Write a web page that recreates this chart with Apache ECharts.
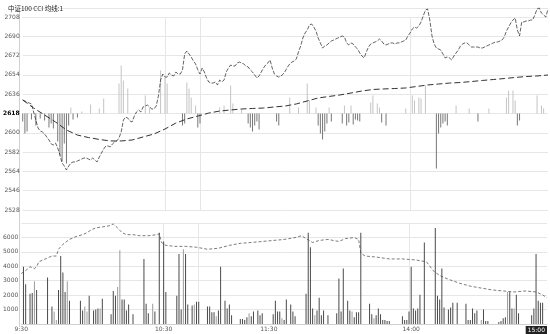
<!DOCTYPE html>
<html><head><meta charset="utf-8">
<script src="https://cdn.jsdelivr.net/npm/echarts@6/dist/echarts.min.js"></script>
<style>html,body{margin:0;padding:0;background:#fff}#c{width:550px;height:334px}</style>
</head><body><div id="c"></div>
<script>
const titleText = '中证100 CCI 均线:1';
const priceTicks = { min: 2528, max: 2708, step: 18, center: 2618 };
const volTicks = { min: 0, max: 7000, step: 1000 };
const tickIdx = [0, 65, 113, 178, 240];
const tickLabels = ['9:30', '10:30', '11:30', '14:00', '15:00'];
const vlineIdx = [65, 81, 177];

const price = [
2630.6,2629.7,2628.7,2627.8,2626.9,2619.4,2611.9,2604.5,2601.7,2600.8,
2598.9,2596.1,2593.3,2589.6,2588.6,2590.5,2585.8,2579.3,2571.8,2569.0,
2565.3,2569.0,2571.8,2572.8,2572.8,2573.7,2574.6,2575.6,2576.5,2576.5,
2575.6,2574.6,2576.5,2574.6,2572.8,2577.4,2581.2,2584.9,2587.7,2587.7,
2586.8,2589.6,2591.4,2592.4,2595.2,2600.8,2611.9,2614.7,2613.8,2611.0,
2610.1,2615.7,2619.4,2621.3,2619.4,2624.1,2625.0,2625.9,2624.1,2622.2,
2622.2,2625.0,2634.3,2649.2,2654.8,2652.0,2652.0,2655.8,2653.9,2653.0,
2656.7,2654.8,2654.8,2658.6,2673.5,2676.3,2673.5,2670.7,2667.0,2664.2,
2658.6,2654.8,2660.4,2656.7,2651.1,2647.4,2646.4,2646.4,2647.4,2644.6,
2649.2,2647.4,2649.2,2656.7,2660.4,2663.2,2662.3,2662.3,2665.1,2666.0,
2665.1,2664.2,2662.3,2661.4,2658.6,2656.7,2653.9,2651.1,2653.0,2656.7,
2660.4,2663.2,2665.1,2667.9,2660.4,2654.8,2653.0,2652.0,2653.0,2654.8,
2657.6,2661.4,2664.2,2666.0,2667.0,2668.8,2675.4,2680.9,2688.4,2693.1,
2695.9,2700.5,2701.5,2698.7,2694.9,2688.4,2683.8,2679.1,2680.9,2681.9,
2683.8,2685.6,2686.5,2687.5,2688.4,2689.3,2690.3,2689.3,2683.8,2681.9,
2683.8,2682.8,2680.0,2678.2,2674.4,2671.6,2669.8,2675.4,2680.0,2682.8,
2683.8,2684.7,2685.6,2687.5,2685.6,2682.8,2681.9,2682.8,2683.8,2683.8,
2682.8,2683.8,2683.8,2684.7,2685.6,2686.5,2690.3,2693.1,2696.8,2698.7,
2697.7,2699.6,2703.4,2709.0,2714.5,2715.5,2705.2,2690.3,2682.8,2679.1,
2678.2,2677.2,2673.5,2669.8,2670.7,2669.8,2667.9,2671.6,2674.4,2677.2,
2680.9,2682.8,2683.8,2683.8,2681.9,2680.0,2680.0,2680.0,2680.0,2679.1,
2679.1,2680.0,2680.9,2681.9,2682.8,2683.8,2684.7,2684.7,2685.6,2686.5,
2689.3,2694.9,2698.7,2702.4,2705.2,2707.1,2695.9,2690.3,2703.4,2703.4,
2704.3,2704.3,2705.2,2705.2,2709.9,2715.5,2716.4,2711.7,2709.9,2708.0,2715.5
];

const avgPoints = [
[0,2630.6],[5,2623.1],[10,2616.6],[15,2610.1],[20,2602.6],[25,2597.9],[30,2595.6],[35,2593.8],
[40,2592.4],[45,2592.4],[50,2593.3],[55,2596.1],[60,2598.9],[65,2603.5],[70,2609.1],[75,2612.9],
[80,2615.6],[85,2618.4],[90,2620.3],[95,2621.3],[100,2622.2],[105,2622.7],[110,2623.1],[115,2624.1],
[120,2625.0],[125,2626.9],[130,2629.7],[135,2632.5],[140,2633.9],[145,2635.3],[150,2637.1],[155,2639.0],
[160,2640.4],[165,2640.9],[170,2641.3],[175,2641.8],[180,2643.2],[185,2644.6],[190,2645.5],[195,2646.4],
[200,2646.9],[205,2647.8],[210,2648.8],[215,2649.7],[220,2650.6],[225,2651.6],[230,2652.5],[235,2653.0],[240,2653.9]
];

const barUp = [
[22,6],[27,2],[31,9],[35,5],[37,15],[44,30],[45,48],[46,33],[48,25],[56,18],[58,6],[63,43],[65,36],[66,30],
[75,31],[76,25],[77,16],[79,8],[90,6],[92,8],[95,28],[96,10],[100,4],[122,16],[126,6],[130,30],[131,13],
[134,6],[140,6],[147,8],[150,8],[159,11],[160,18],[162,10],[163,6],[175,5],[178,18],[179,13],[181,16],
[182,15],[184,28],[198,8],[204,5],[213,5],[221,16],[222,23],[224,23],[225,13],[235,18],[237,8],[238,5]
];
const barDown = [
[0,-8],[1,-20],[2,-18],[4,-6],[6,-12],[8,-5],[10,-7],[12,-14],[13,-10],[14,-15],[16,-28],[17,-42],[18,-48],
[19,-30],[20,-50],[21,-12],[23,-6],[25,-4],[73,-12],[74,-10],[80,-14],[81,-10],[103,-10],[104,-14],[105,-18],
[106,-12],[107,-8],[108,-16],[116,-8],[117,-12],[135,-12],[136,-20],[137,-26],[138,-18],[139,-10],[141,-8],
[146,-10],[148,-12],[149,-9],[151,-11],[152,-6],[153,-7],[154,-8],[164,-9],[166,-12],[189,-55],[190,-20],
[191,-14],[192,-10],[193,-8],[194,-12],[208,-8],[226,-12],[227,-7]
];

const volDark = [
[1,3970],[2,2760],[4,2090],[5,2150],[7,2360],[12,3230],[14,1210],[17,2360],[18,4710],[19,3570],[20,2220],
[22,1620],[27,1620],[28,940],[31,1950],[33,940],[34,1010],[35,1080],[37,1750],[41,670],[42,2290],[43,1950],
[46,1690],[47,1690],[48,940],[49,1350],[51,670],[56,4510],[57,1410],[58,740],[61,870],[63,6330],[65,5720],
[66,2220],[71,1950],[72,4850],[73,1010],[75,4850],[76,1350],[78,1280],[80,1550],[81,1550],[85,1210],[86,1210],
[87,810],[88,810],[90,940],[91,3970],[93,1620],[94,1080],[95,1350],[96,610],[100,340],[101,340],[102,270],
[103,470],[105,540],[106,870],[108,940],[109,610],[110,740],[115,670],[116,1620],[117,870],[118,870],[120,270],
[121,1690],[123,1350],[124,870],[125,540],[130,2090],[131,6330],[132,5320],[133,1080],[135,940],[136,1820],
[137,610],[138,940],[140,610],[144,740],[145,3160],[146,870],[147,3840],[149,1620],[150,940],[152,470],
[153,810],[154,810],[155,6330],[159,1410],[160,670],[162,610],[163,1080],[164,670],[165,270],[166,270],
[167,200],[168,200],[174,540],[175,270],[176,270],[177,870],[178,3970],[179,1080],[180,940],[181,1080],
[182,2020],[184,5650],[189,6660],[190,1950],[191,1690],[192,3840],[193,1140],[195,1010],[196,1140],[197,1480],
[199,1480],[203,1410],[204,270],[205,270],[206,1080],[207,740],[208,940],[211,1010],[212,200],[213,200],
[218,130],[219,200],[220,400],[221,470],[223,2220],[224,1080],[226,2020],[227,740],[233,610],[234,1080],
[235,4850],[236,1620],[237,1480],[238,1480]
];
const volLight = [
[6,2960],[15,870],[16,270],[21,2960],[29,1210],[30,870],[36,1080],[44,2560],[45,5110],[60,1410],[74,5180],
[79,1350],[89,540],[104,740],[119,400],[134,610],[151,870],[161,400],[210,270],[222,2220],[225,1080]
];
const volLine = [
[0,3500],[2,3700],[4,3970],[6,3840],[7,3970],[8,4310],[10,4440],[12,4580],[14,4710],[16,4710],[17,5180],
[19,5520],[22,5860],[25,6060],[28,6190],[30,6330],[32,6530],[34,6660],[37,6730],[40,6800],[42,6930],[44,6660],
[46,6330],[48,6190],[51,6190],[54,6120],[58,6120],[62,6190],[63,6260],[64,5650],[66,5450],[70,5380],[75,5380],
[80,5320],[85,5180],[90,5250],[95,5450],[100,5590],[105,5650],[110,5720],[115,5790],[120,5860],[125,5990],
[128,6120],[130,5920],[133,5650],[136,5790],[140,5860],[145,5720],[148,5920],[152,5990],[154,5860],[155,4910],
[157,4710],[162,4640],[168,4510],[174,4510],[180,4440],[185,4310],[188,3700],[191,3360],[195,3100],[200,2830],
[205,2620],[210,2490],[215,2360],[220,2290],[225,2220],[230,2290],[235,2220],[238,2020],[240,1820]
];

const categories = price.map((_, i) => String(i));
const labelFont = { fontSize: 6, color: '#555', fontFamily: 'DejaVu Sans' };
const gridColor = '#e6e6e6';

const chart = echarts.init(document.getElementById('c'), null, { renderer: 'canvas' });
chart.setOption({
  animation: false,
  backgroundColor: '#fff',
  title: { text: titleText, left: 3, top: 0, textStyle: { fontSize: 6.5, fontWeight: 'normal', color: '#222', fontFamily: 'Noto Sans CJK SC' } },
  graphic: [
    { type: 'line', shape: { x1: 19, y1: 8.5, x2: 548, y2: 8.5 }, style: { stroke: gridColor, lineWidth: 1 }, silent: true },
    { type: 'line', shape: { x1: 19.5, y1: 8, x2: 19.5, y2: 327 }, style: { stroke: '#d0d0d0', lineWidth: 1 }, silent: true }
  ],
  grid: [
    { left: 19, right: 2, top: 17, height: 193 },
    { left: 19, right: 2, top: 223, height: 104 }
  ],
  xAxis: [
    { type: 'category', gridIndex: 0, data: categories, boundaryGap: false,
      axisLine: { show: false }, axisTick: { show: false }, axisLabel: { show: false },
      splitLine: { show: true, interval: (i) => vlineIdx.includes(i), lineStyle: { color: gridColor } } },
    { type: 'category', gridIndex: 1, data: categories, boundaryGap: false,
      axisLine: { show: true, lineStyle: { color: '#d0d0d0' } }, axisTick: { show: false },
      axisLabel: Object.assign({}, labelFont, { margin: 2, interval: (i) => tickIdx.includes(i),
        formatter: (v, i) => { const k = tickIdx.indexOf(i); return k === tickLabels.length - 1 ? '{box|' + tickLabels[k] + '}' : (k >= 0 ? tickLabels[k] : ''); },
        alignMaxLabel: 'right',
        rich: { box: { backgroundColor: '#222', color: '#fff', fontSize: 6, padding: [1, 2, 1, 2] } } }),
      splitLine: { show: true, interval: (i) => vlineIdx.includes(i), lineStyle: { color: gridColor } } }
  ],
  yAxis: [
    { type: 'value', gridIndex: 0, min: priceTicks.min, max: priceTicks.max, interval: priceTicks.step,
      axisLine: { show: false }, axisTick: { show: false },
      axisLabel: Object.assign({}, labelFont, { margin: 3,
        formatter: (v) => v === priceTicks.center ? '{b|' + v + '}' : String(v),
        rich: { b: { fontWeight: 'bold', color: '#000', fontSize: 6 } } }),
      splitLine: { lineStyle: { color: gridColor } } },
    { type: 'value', gridIndex: 0, min: -96.5, max: 96.5, show: false, splitLine: { show: false } },
    { type: 'value', gridIndex: 1, min: volTicks.min, max: volTicks.max, interval: volTicks.step,
      axisLine: { show: false }, axisTick: { show: false },
      axisLabel: Object.assign({}, labelFont, { margin: 3, showMinLabel: false, showMaxLabel: false, formatter: (v) => String(v) }),
      splitLine: { lineStyle: { color: gridColor } } }
  ],
  series: [
    { type: 'bar', xAxisIndex: 0, yAxisIndex: 1, data: barUp, barWidth: 1, barGap: '-100%', itemStyle: { color: '#c4c4c4' }, silent: true },
    { type: 'bar', xAxisIndex: 0, yAxisIndex: 1, data: barDown, barWidth: 1, barGap: '-100%', itemStyle: { color: '#777' }, silent: true },
    { type: 'line', xAxisIndex: 0, yAxisIndex: 0, data: avgPoints, showSymbol: false, clip: false,
      lineStyle: { color: '#333', width: 1, type: [6, 3] }, z: 3 },
    { type: 'line', xAxisIndex: 0, yAxisIndex: 0, data: price, showSymbol: false, clip: false,
      lineStyle: { color: '#222', width: 0.7, type: [4, 1.5] }, z: 4 },
    { type: 'bar', xAxisIndex: 1, yAxisIndex: 2, data: volDark, barWidth: 1, barGap: '-100%', itemStyle: { color: '#4a4a4a' } },
    { type: 'bar', xAxisIndex: 1, yAxisIndex: 2, data: volLight, barWidth: 1, barGap: '-100%', itemStyle: { color: '#9a9a9a' } },
    { type: 'line', xAxisIndex: 1, yAxisIndex: 2, data: volLine, showSymbol: false,
      lineStyle: { color: '#444', width: 0.7, type: [3, 2] }, z: 4 }
  ]
});
</script></body></html>
